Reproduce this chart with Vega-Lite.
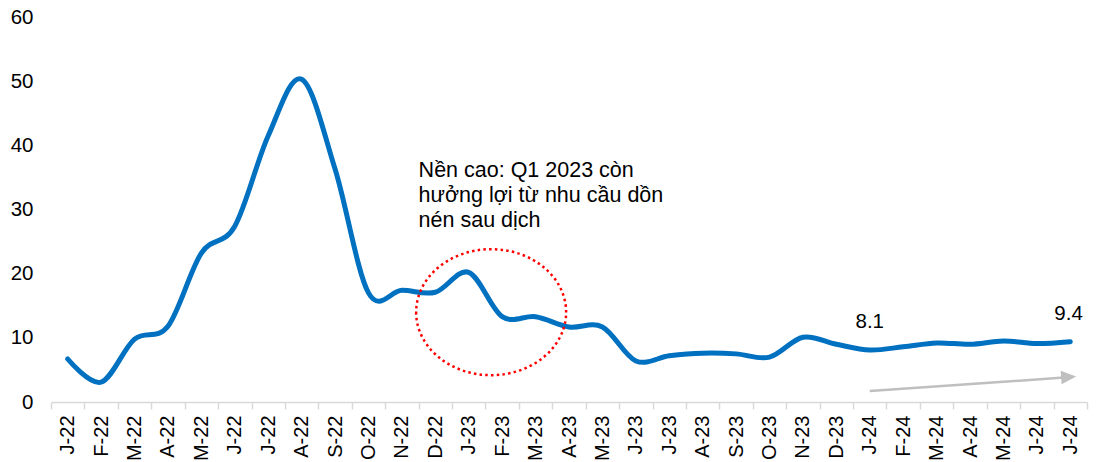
{
  "$schema": "https://vega.github.io/schema/vega-lite/v6.json",
  "width": 1036,
  "height": 385,
  "autosize": "none",
  "padding": {"left": 51, "top": 17, "right": 11, "bottom": 60},
  "background": "white",
  "config": {"view": {"stroke": null}, "font": "Liberation Sans"},
  "datasets": {
    "series": [
      {"i": 0, "month": "J-22", "v": 6.7},
      {"i": 1, "month": "F-22", "v": 3.1},
      {"i": 2, "month": "M-22", "v": 9.8},
      {"i": 3, "month": "A-22", "v": 11.8},
      {"i": 4, "month": "M-22", "v": 23.2},
      {"i": 5, "month": "J-22", "v": 27.4},
      {"i": 6, "month": "J-22", "v": 41.5},
      {"i": 7, "month": "A-22", "v": 50.3},
      {"i": 8, "month": "S-22", "v": 36.3},
      {"i": 9, "month": "O-22", "v": 17.0},
      {"i": 10, "month": "N-22", "v": 17.4},
      {"i": 11, "month": "D-22", "v": 17.1},
      {"i": 12, "month": "J-23", "v": 20.2},
      {"i": 13, "month": "F-23", "v": 13.3},
      {"i": 14, "month": "M-23", "v": 13.3},
      {"i": 15, "month": "A-23", "v": 11.7},
      {"i": 16, "month": "M-23", "v": 11.7},
      {"i": 17, "month": "J-23", "v": 6.4},
      {"i": 18, "month": "J-23", "v": 7.2},
      {"i": 19, "month": "A-23", "v": 7.6},
      {"i": 20, "month": "S-23", "v": 7.5},
      {"i": 21, "month": "O-23", "v": 7.0},
      {"i": 22, "month": "N-23", "v": 10.1},
      {"i": 23, "month": "D-23", "v": 9.0},
      {"i": 24, "month": "J-24", "v": 8.1},
      {"i": 25, "month": "F-24", "v": 8.6},
      {"i": 26, "month": "M-24", "v": 9.2},
      {"i": 27, "month": "A-24", "v": 9.0},
      {"i": 28, "month": "M-24", "v": 9.5},
      {"i": 29, "month": "J-24", "v": 9.1},
      {"i": 30, "month": "J-24", "v": 9.4}
    ],
    "valueLabels": [
      {"i": 24.0, "v": 8.1, "label": "8.1"},
      {"i": 29.95, "v": 9.4, "label": "9.4"}
    ],
    "note": [
      {"i": 10.5, "v": 35.0, "label": ["Nền cao: Q1 2023 còn", "hưởng lợi từ nhu cầu dồn", "nén sau dịch"]}
    ],
    "circle": [
      {"i": 12.67, "v": 14.0}
    ],
    "arrow": [
      {"i": 24.0, "v": 1.7},
      {"i": 29.8, "v": 3.8}
    ],
    "arrowHead": [
      {"i": 29.95, "v": 3.9}
    ]
  },
  "layer": [
    {
      "data": {"name": "series"},
      "mark": {"type": "line", "color": "#0070C0", "strokeWidth": 5, "interpolate": "cardinal", "strokeCap": "round"},
      "encoding": {
        "x": {
          "field": "i", "type": "quantitative",
          "scale": {"domain": [-0.5, 30.5], "nice": false, "zero": false},
          "axis": {
            "title": null,
            "values": [-0.5, 0.5, 1.5, 2.5, 3.5, 4.5, 5.5, 6.5, 7.5, 8.5, 9.5, 10.5, 11.5, 12.5, 13.5, 14.5, 15.5, 16.5, 17.5, 18.5, 19.5, 20.5, 21.5, 22.5, 23.5, 24.5, 25.5, 26.5, 27.5, 28.5, 29.5, 30.5],
            "tickCount": 40,
            "labelExpr": "['J-22','F-22','M-22','A-22','M-22','J-22','J-22','A-22','S-22','O-22','N-22','D-22','J-23','F-23','M-23','A-23','M-23','J-23','J-23','A-23','S-23','O-23','N-23','D-23','J-24','F-24','M-24','A-24','M-24','J-24','J-24'][round(datum.value + 0.5)] || ''",
            "labelOffset": 16.71,
            "labelAngle": 270,
            "labelAlign": "right",
            "labelBaseline": "middle",
            "labelFontSize": 20,
            "labelColor": "#000000",
            "labelPadding": 6,
            "labelOverlap": false,
            "labelBound": false,
            "labelFlush": false,
            "domainColor": "#d9d9d9",
            "domainWidth": 1.5,
            "tickColor": "#d9d9d9",
            "tickWidth": 1.5,
            "tickSize": 7,
            "grid": false
          }
        },
        "y": {
          "field": "v", "type": "quantitative",
          "scale": {"domain": [0, 60], "nice": false},
          "axis": {
            "title": null,
            "values": [0, 10, 20, 30, 40, 50, 60],
            "labelFontSize": 20.5,
            "labelColor": "#000000",
            "labelPadding": 18,
            "ticks": false,
            "tickSize": 0,
            "domain": false,
            "grid": false
          }
        }
      }
    },
    {
      "data": {"name": "arrow"},
      "mark": {"type": "line", "color": "#bfbfbf", "strokeWidth": 2.5},
      "encoding": {
        "x": {"field": "i", "type": "quantitative"},
        "y": {"field": "v", "type": "quantitative"}
      }
    },
    {
      "data": {"name": "arrowHead"},
      "mark": {"type": "point", "shape": "M 1 0 L -1 -0.9 L -1 0.9 Z", "filled": true, "color": "#bfbfbf", "size": 225, "angle": 356, "opacity": 1},
      "encoding": {
        "x": {"field": "i", "type": "quantitative"},
        "y": {"field": "v", "type": "quantitative"}
      }
    },
    {
      "data": {"name": "circle"},
      "mark": {"type": "point", "shape": "M -1 0 A 1 0.84 0 1 0 1 0 A 1 0.84 0 1 0 -1 0 Z", "size": 22500, "filled": false, "stroke": "#ff0000", "strokeWidth": 2.5, "strokeDash": [2.5, 3.2], "opacity": 1},
      "encoding": {
        "x": {"field": "i", "type": "quantitative"},
        "y": {"field": "v", "type": "quantitative"}
      }
    },
    {
      "data": {"name": "valueLabels"},
      "mark": {"type": "text", "fontSize": 20.5, "color": "#000000", "baseline": "alphabetic", "dy": -22},
      "encoding": {
        "x": {"field": "i", "type": "quantitative"},
        "y": {"field": "v", "type": "quantitative"},
        "text": {"field": "label"}
      }
    },
    {
      "data": {"name": "note"},
      "mark": {"type": "text", "fontSize": 21.5, "color": "#000000", "align": "left", "baseline": "alphabetic", "lineHeight": 25},
      "encoding": {
        "x": {"field": "i", "type": "quantitative"},
        "y": {"field": "v", "type": "quantitative"},
        "text": {"field": "label"}
      }
    }
  ]
}
